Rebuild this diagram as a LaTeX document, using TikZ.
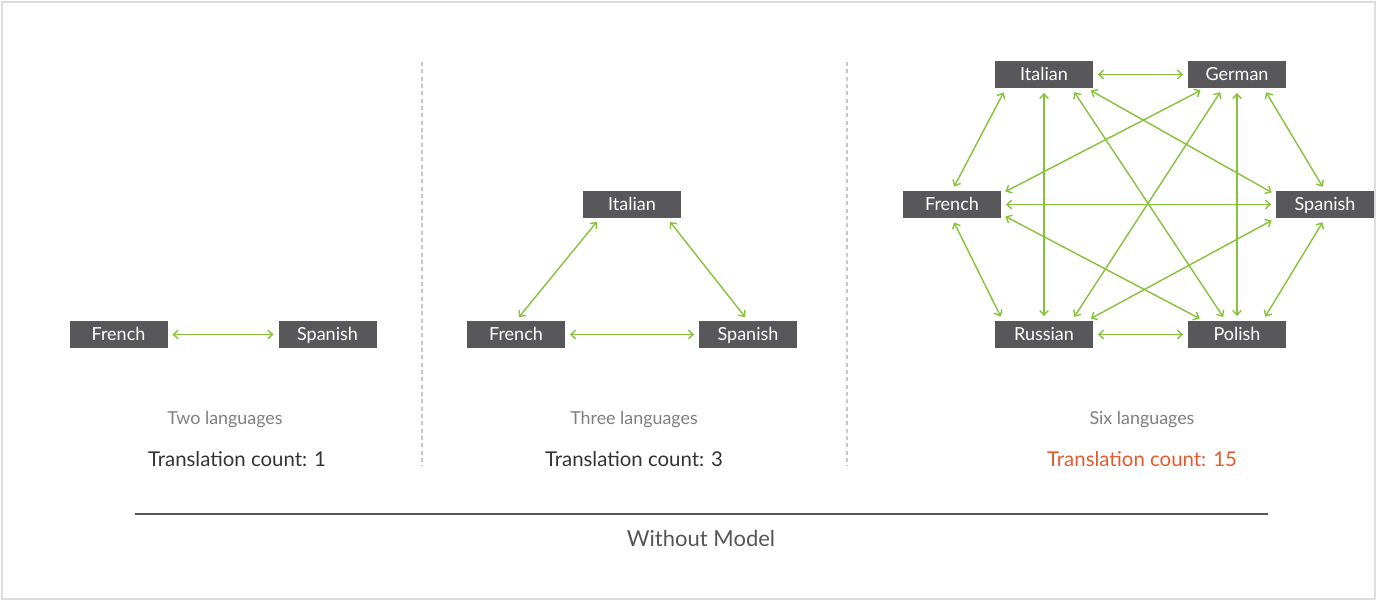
\documentclass[tikz,border=0pt]{standalone}
\usepackage{fontspec}
\setmainfont{Lato}
\usetikzlibrary{arrows.meta,calc}
\definecolor{boxgray}{HTML}{58585A}
\definecolor{linkgreen}{HTML}{86C13A}
\definecolor{countred}{HTML}{E35B2C}
\definecolor{capgray}{HTML}{808080}
\definecolor{rulegray}{HTML}{555555}
\definecolor{sepgray}{HTML}{C8C8C8}
\definecolor{framegray}{HTML}{DDDDDD}
\tikzset{
  lang/.style={fill=boxgray, text=white, minimum width=73.5pt, minimum height=20.25pt,
    inner sep=0pt, text height=9.7pt, text depth=0pt, font=\fontsize{13.5}{16}\selectfont},
  link/.style={{Straight Barb[length=3.5pt,width=6.5pt]}-{Straight Barb[length=3.5pt,width=6.5pt]},
    draw=linkgreen, line width=1.05pt, shorten <=3.5pt, shorten >=3.5pt},
  caption/.style={text=capgray, font=\fontsize{13.4}{16}\selectfont},
  count/.style={text=black!80, font=\fontsize{15.3}{18}\selectfont},
  sep/.style={draw=sepgray, line width=1pt, dash pattern=on 3pt off 2.5pt},
}
\begin{document}
\begin{tikzpicture}[x=0.75pt, y=-0.75pt]
  \useasboundingbox (0,0) rectangle (1377,601);
  \draw[framegray, line width=1.1pt] (2,2) rectangle (1375,599);
  % two languages
  \node[lang] (fr1) at (118.5,334.5) {French};
  \node[lang] (es1) at (327.5,334.5) {Spanish};
  \draw[link] (fr1.east) -- (es1.west);
  \node[caption] (cap1) at (225,420) {Two languages};
  \node[count] (cnt1) at (237,459) {Translation count: 1};
  \draw[sep] (422,62) -- (422,466);
  % three languages
  \node[lang] (it2) at (632,204.5) {Italian};
  \node[lang] (fr2) at (516,334.5) {French};
  \node[lang] (es2) at (748,334.5) {Spanish};
  \draw[link] ($(it2.south west)+(17,0)$) -- (fr2.north);
  \draw[link] ($(it2.south east)+(-14,0)$) -- (es2.north);
  \draw[link] (fr2.east) -- (es2.west);
  \node[caption] (cap2) at (634,420) {Three languages};
  \node[count] (cnt2) at (634,459) {Translation count: 3};
  \draw[sep] (847,62) -- (847,466);
  % six languages
  \node[lang] (it3) at (1044,74.5) {Italian};
  \node[lang] (de3) at (1237,74.5) {German};
  \node[lang] (fr3) at (952,204.5) {French};
  \node[lang] (es3) at (1325,204.5) {Spanish};
  \node[lang] (ru3) at (1044,334.5) {Russian};
  \node[lang] (pl3) at (1237,334.5) {Polish};
  \draw[link] (it3.east) -- (de3.west);
  \draw[link] ($(it3.south west)+(11,0)$) -- (fr3.north);
  \draw[link] (it3.south) -- (ru3.north);
  \draw[link] ($(it3.south west)+(77,0)$) -- ($(pl3.north west)+(38,0)$);
  \draw[link] ($(it3.south west)+(92,0)$) -- ($(es3.north west)+(0,4)$);
  \draw[link] ($(de3.south west)+(17,0)$) -- ($(fr3.north east)+(0,3)$);
  \draw[link] ($(de3.south west)+(35,0)$) -- ($(ru3.north west)+(77,0)$);
  \draw[link] (de3.south) -- (pl3.north);
  \draw[link] ($(de3.south west)+(76,0)$) -- (es3.north);
  \draw[link] (fr3.east) -- (es3.west);
  \draw[link] (fr3.south) -- ($(ru3.north west)+(8,0)$);
  \draw[link] ($(fr3.south east)+(0,-4)$) -- ($(pl3.north west)+(16,0)$);
  \draw[link] (es3.south west) -- ($(ru3.north west)+(92,0)$);
  \draw[link] (es3.south) -- ($(pl3.north west)+(75,0)$);
  \draw[link] (ru3.east) -- (pl3.west);
  \node[caption] (cap3) at (1142,420) {Six languages};
  \node[count, text=countred] (cnt3) at (1142,459) {Translation count: 15};
  % footer
  \draw[rulegray, line width=1.1pt] (135,514) coordinate (rl) -- (1268,514) coordinate (rr);
  \node[text=rulegray, font=\fontsize{16.5}{19}\selectfont] (title) at (701,538) {Without Model};
\end{tikzpicture}
\end{document}
